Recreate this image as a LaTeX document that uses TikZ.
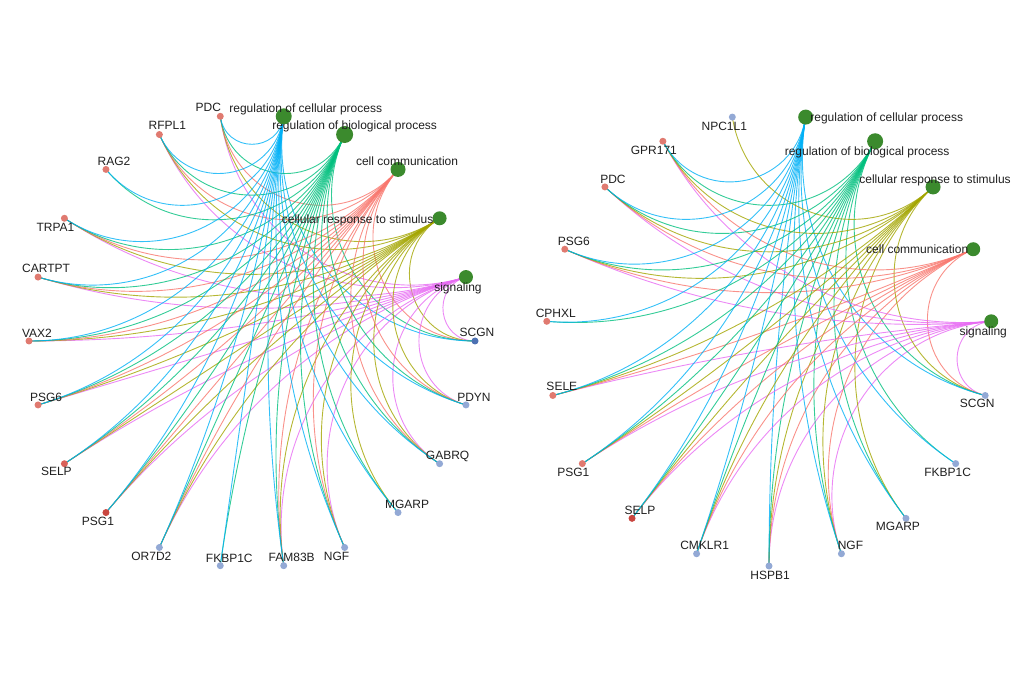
\documentclass[tikz,border=0pt]{standalone}
\usepackage{fontspec}
\setmainfont{Liberation Sans}
\usetikzlibrary{calc,positioning,backgrounds}
\definecolor{termgreen}{HTML}{3B8A2D}
\definecolor{upred}{HTML}{E07A70}
\definecolor{upmid}{HTML}{D9625A}
\definecolor{updark}{HTML}{C9463F}
\definecolor{downblue}{HTML}{93A9D5}
\definecolor{downdark}{HTML}{4D71B2}
\definecolor{ccomm}{HTML}{F8766D}
\definecolor{cresp}{HTML}{A3A500}
\definecolor{cbio}{HTML}{00BF7D}
\definecolor{ccell}{HTML}{00B0F6}
\definecolor{csig}{HTML}{E76BF3}
% edge colour of each term, by its place on the circle
\colorlet{Lt1}{csig}\colorlet{Lt2}{cresp}\colorlet{Lt3}{ccomm}\colorlet{Lt4}{cbio}\colorlet{Lt5}{ccell}
\colorlet{Rt5}{csig}\colorlet{Rt6}{ccomm}\colorlet{Rt7}{cresp}\colorlet{Rt8}{cbio}\colorlet{Rt9}{ccell}

\begin{document}
\begin{tikzpicture}[x=1pt,y=1pt,
  gene/.style={circle, inner sep=0pt, minimum size=7pt},
  term/.style={circle, inner sep=0pt, fill=termgreen},
  lab/.style={inner sep=0pt, text=black!88, text depth=0pt, font=\fontsize{12}{14}\selectfont},
  link/.style={line width=0.9pt, opacity=0.8}]
\useasboundingbox (0,0) rectangle (1024,683);

% ===== left network (22 nodes on the circle)
\coordinate (Lc) at (252,342);
% The terms
\foreach \t/\dia/\txt/\dx/\dy in {1/14/signaling/-8/-10, 2/14/cellular response to stimulus/-82/-1,
  3/15/cell communication/9/8, 4/17/regulation of biological process/10/9,
  5/16/regulation of cellular process/22/8}{
  \pgfmathsetmacro\ang{\t*360/22}
  \node[term, minimum size=\dia pt] (Lt\t) at ($(Lc)+(\ang:223pt and 227pt)$) {};
  \node[lab] (Lt\t-lab) at ($(Lt\t)+(\dx,\dy)$) {\txt};
}
% The genes
\foreach \k/\gname/\col/\dx/\dy in {0/SCGN/downdark/2/9, 6/PDC/upred/-12/9, 7/RFPL1/upred/8/9,
  8/RAG2/upred/8/8, 9/TRPA1/upred/-9/-9, 10/CARTPT/upred/8/9, 11/VAX2/upred/8/8,
  12/PSG6/upred/8/8, 13/SELP/upmid/-8/-8, 14/PSG1/updark/-8/-9, 15/OR7D2/downblue/-8/-9,
  16/FKBP1C/downblue/9/7, 17/FAM83B/downblue/8/8, 18/NGF/downblue/-8/-9,
  19/MGARP/downblue/9/8, 20/GABRQ/downblue/8/8, 21/PDYN/downblue/8/8}{
  \pgfmathsetmacro\ang{\k*360/22}
  \node[gene, fill=\col] (Lg\k) at ($(Lc)+(\ang:223pt and 227pt)$) {};
  \node[lab] (Lg\k-lab) at ($(Lg\k)+(\dx,\dy)$) {\gname};
}
% The links
\begin{scope}[on background layer]
\foreach \k/\ts in {0/{1,2,3,4,5}, 6/{1,2,3,4,5}, 7/{1,2,3,4,5}, 8/{4,5}, 9/{1,2,3,4,5},
  10/{1,2,3,4,5}, 11/{1,2,3,4,5}, 12/{1,2,3,4,5}, 13/{1,2,3,4,5}, 14/{1,2,3,4,5},
  15/{1,2,3,4,5}, 16/{4,5}, 17/{1,2,3,4,5}, 18/{1,2,3,4,5}, 19/{2,4,5},
  20/{1,2,3,4,5}, 21/{1,2,3,4,5}}{
  \foreach \t in \ts {
    \pgfmathsetmacro\lkS{abs(sin((\k-\t)*180/22))}
    \pgfmathsetmacro\lkQ{1-4*\lkS/(3*(1+\lkS))}
    \pgfmathsetmacro\lkX{\lkQ*223}
    \pgfmathsetmacro\lkY{\lkQ*227}
    \pgfmathsetmacro\lkA{\k*360/22}
    \pgfmathsetmacro\lkB{\t*360/22}
    \draw[link, draw=Lt\t] (Lg\k.center) .. controls ($(Lc)+(\lkA:\lkX pt and \lkY pt)$)
      and ($(Lc)+(\lkB:\lkX pt and \lkY pt)$) .. (Lt\t.center);
  }
}
\end{scope}

% ===== right network (19 nodes on the circle)
\coordinate (Rc) at (769,343);
% The terms
\foreach \t/\dia/\txt/\dx/\dy in {5/14/signaling/-8/-10, 6/14/cell communication/-56/0,
  7/15/cellular response to stimulus/2/8, 8/16/regulation of biological process/-8/-10,
  9/15/regulation of cellular process/81/0}{
  \pgfmathsetmacro\ang{270+\t*360/19}
  \node[term, minimum size=\dia pt] (Rt\t) at ($(Rc)+(\ang:223pt and 226pt)$) {};
  \node[lab] (Rt\t-lab) at ($(Rt\t)+(\dx,\dy)$) {\txt};
}
% The genes
\foreach \k/\gname/\col/\dx/\dy in {0/HSPB1/downblue/1/-9, 1/NGF/downblue/9/8,
  2/MGARP/downblue/-8/-8, 3/FKBP1C/downblue/-8/-9, 4/SCGN/downblue/-8/-8,
  10/NPC1L1/downblue/-8/-9, 11/GPR171/upred/-9/-9, 12/PDC/upred/8/8, 13/PSG6/upred/9/8,
  14/CPHXL/upred/9/8, 15/SELE/upred/9/9, 16/PSG1/upred/-9/-9, 17/SELP/updark/8/8,
  18/CMKLR1/downblue/8/8}{
  \pgfmathsetmacro\ang{270+\k*360/19}
  \node[gene, fill=\col] (Rg\k) at ($(Rc)+(\ang:223pt and 226pt)$) {};
  \node[lab] (Rg\k-lab) at ($(Rg\k)+(\dx,\dy)$) {\gname};
}
% The links
\begin{scope}[on background layer]
\foreach \k/\ts in {0/{5,6,7,8,9}, 1/{5,6,7,8,9}, 2/{7,8,9}, 3/{8,9}, 4/{5,6,7,8,9},
  10/{7}, 11/{5,6,7,8,9}, 12/{5,6,7,8,9}, 13/{5,6,7,8,9}, 14/{8,9}, 15/{5,6,7,8,9},
  16/{5,6,7,8,9}, 17/{5,6,7,8,9}, 18/{5,6,7,8,9}}{
  \foreach \t in \ts {
    \pgfmathsetmacro\lkS{abs(sin((\k-\t)*180/19))}
    \pgfmathsetmacro\lkQ{1-4*\lkS/(3*(1+\lkS))}
    \pgfmathsetmacro\lkX{\lkQ*223}
    \pgfmathsetmacro\lkY{\lkQ*226}
    \pgfmathsetmacro\lkA{270+\k*360/19}
    \pgfmathsetmacro\lkB{270+\t*360/19}
    \draw[link, draw=Rt\t] (Rg\k.center) .. controls ($(Rc)+(\lkA:\lkX pt and \lkY pt)$)
      and ($(Rc)+(\lkB:\lkX pt and \lkY pt)$) .. (Rt\t.center);
  }
}
\end{scope}
\end{tikzpicture}
\end{document}
